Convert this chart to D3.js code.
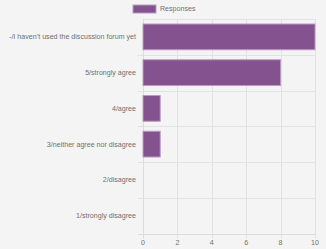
<!DOCTYPE html>
<html>
<head>
<meta charset="utf-8">
<script src="https://cdn.jsdelivr.net/npm/d3@7"></script>
<style>
  body { margin: 0; background: #f4f4f4; }
  svg { display: block; font-family: "Liberation Sans", Arial, sans-serif; }
</style>
</head>
<body>
<div id="chart"></div>
<script>
const categories = [
  '-/I haven\u2019t used the discussion forum yet',
  '5/strongly agree',
  '4/agree',
  '3/neither agree nor disagree',
  '2/disagree',
  '1/strongly disagree'
];
const responses = [10, 8, 1, 1, 0, 0];
const xTicks = [0, 2, 4, 6, 8, 10];
const seriesName = 'Responses';

const w = 326, h = 249;
const plotLeft = 143, plotRight = 315, plotTop = 19, plotBottom = 233.5;

const svg = d3.select('#chart').append('svg')
  .attr('width', w)
  .attr('height', h);

svg.append('rect').attr('width', w).attr('height', h).attr('fill', '#f4f4f4');

const x = d3.scaleLinear().domain([0, 10]).range([plotLeft, plotRight]);
const y = d3.scaleBand().domain(categories).range([plotTop, plotBottom]);
const inner = y.bandwidth() * 0.72;

const grid = svg.append('g').attr('stroke', '#e2e2e2').attr('stroke-width', 1);

// vertical grid lines + tick marks below axis
xTicks.forEach((t) => {
  grid.append('line')
    .attr('x1', Math.round(x(t)) + 0.5).attr('x2', Math.round(x(t)) + 0.5)
    .attr('y1', plotTop).attr('y2', plotBottom + 5);
});

// horizontal grid lines at band boundaries, with ticks left of the axis
categories.forEach((c) => {
  const yy = Math.round(y(c) + y.bandwidth()) + 0.5;
  grid.append('line')
    .attr('x1', plotLeft - 5).attr('x2', plotRight)
    .attr('y1', yy).attr('y2', yy);
});
grid.append('line')
  .attr('x1', plotLeft).attr('x2', plotRight)
  .attr('y1', plotTop + 0.5).attr('y2', plotTop + 0.5);

// axis lines slightly darker
svg.append('line')
  .attr('x1', Math.round(plotLeft) + 0.5).attr('x2', Math.round(plotLeft) + 0.5)
  .attr('y1', plotTop).attr('y2', plotBottom + 5)
  .attr('stroke', '#dcdcdc');
svg.append('line')
  .attr('x1', plotLeft - 5).attr('x2', plotRight)
  .attr('y1', Math.round(plotBottom) + 0.5).attr('y2', Math.round(plotBottom) + 0.5)
  .attr('stroke', '#dcdcdc');

// bars
svg.append('g').selectAll('rect')
  .data(categories)
  .join('rect')
  .attr('x', x(0))
  .attr('y', (d) => y(d) + (y.bandwidth() - inner) / 2)
  .attr('width', (d, i) => x(responses[i]) - x(0))
  .attr('height', inner)
  .attr('fill', '#84528f')
  .attr('stroke', '#b99bc0')
  .attr('stroke-width', (d, i) => responses[i] > 0 ? 1 : 0);

// category labels
svg.append('g').selectAll('text')
  .data(categories)
  .join('text')
  .attr('x', plotLeft - 7)
  .attr('y', (d) => y(d) + y.bandwidth() / 2)
  .attr('dy', '0.35em')
  .attr('text-anchor', 'end')
  .attr('font-size', 7.1)
  .attr('fill', '#707070')
  .text((d) => d);

// x tick labels
svg.append('g').selectAll('text')
  .data(xTicks)
  .join('text')
  .attr('x', (d) => x(d))
  .attr('y', 243)
  .attr('dy', '0.35em')
  .attr('text-anchor', 'middle')
  .attr('font-size', 7.1)
  .attr('fill', '#707070')
  .text((d) => d);

// legend
svg.append('rect')
  .attr('x', 133).attr('y', 5).attr('width', 23).attr('height', 8)
  .attr('fill', '#84528f').attr('stroke', '#b99bc0');
svg.append('text')
  .attr('x', 160).attr('y', 9).attr('dy', '0.35em')
  .attr('font-size', 7.1).attr('fill', '#707070')
  .text(seriesName);
</script>
</body>
</html>
